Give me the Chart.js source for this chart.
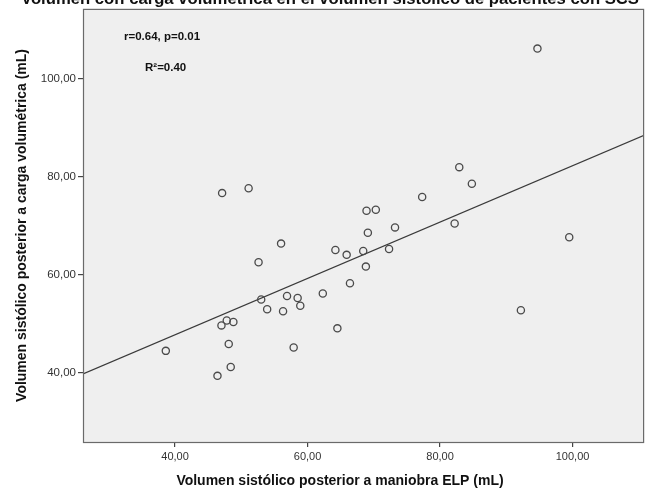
<!DOCTYPE html>
<html><head><meta charset="utf-8">
<script src="https://cdn.jsdelivr.net/npm/chart.js@4/dist/chart.umd.min.js"></script>
<style>html,body{margin:0;padding:0;background:#fff;}</style>
</head><body>
<canvas id="c" width="649" height="493"></canvas>
<script>
// Data
const xValues = [47.1, 51.1, 56.0, 52.6, 68.9, 70.3, 69.1, 64.2, 65.9, 68.4, 68.8, 72.3, 66.4, 62.3, 56.9, 58.5, 53.0, 58.9, 53.9, 56.3, 47.0, 47.8, 48.8, 64.5, 38.6, 48.1, 57.9, 48.4, 46.4, 94.7, 82.9, 84.8, 77.3, 73.2, 82.2, 99.5, 92.2];
const yValues = [76.7, 77.7, 66.4, 62.6, 73.1, 73.3, 68.6, 65.1, 64.1, 64.9, 61.7, 65.3, 58.3, 56.2, 55.7, 55.3, 55.0, 53.7, 53.0, 52.6, 49.7, 50.7, 50.4, 49.1, 44.5, 45.9, 45.2, 41.2, 39.4, 106.2, 82.0, 78.6, 75.9, 69.7, 70.5, 67.7, 52.8];
const xTicks = [40, 60, 80, 100];
const yTicks = [40, 60, 80, 100];
const fitIntercept = 24.8;
const fitSlope = 0.575;
const xRange = [26.1, 110.8];
const yRange = [25.9, 114.3];
const chartTitle = "Volumen con carga volumétrica en el volumen sistólico de pacientes con SCS";
const xTitle = "Volumen sistólico posterior a maniobra ELP (mL)";
const yTitle = "Volumen sistólico posterior a carga volumétrica (mL)";
const statText1 = "r=0.64, p=0.01";
const statText2 = "R²=0.40";

const points = xValues.map((x, i) => ({x: x, y: yValues[i]}));
const fitLine = xRange.map(x => ({x: x, y: fitIntercept + fitSlope * x}));
const fmt = v => v.toFixed(2).replace('.', ',');
const FONT = '"Liberation Sans", Arial, sans-serif';

const decor = {
  id: 'decor',
  beforeDraw(chart) {
    const {ctx, chartArea: a} = chart;
    ctx.save();
    ctx.fillStyle = '#efefef';
    ctx.fillRect(a.left, a.top, a.right - a.left, a.bottom - a.top);
    ctx.restore();
  },
  afterDraw(chart) {
    const {ctx, chartArea: a} = chart;
    ctx.save();
    ctx.strokeStyle = '#6a6a6a';
    ctx.lineWidth = 1.2;
    ctx.strokeRect(a.left + 0.5, a.top + 0.5, a.right - a.left - 1, a.bottom - a.top);
    ctx.fillStyle = '#111';
    // clipped title at top
    ctx.font = 'bold 17px ' + FONT;
    ctx.textAlign = 'center';
    ctx.textBaseline = 'alphabetic';
    ctx.fillText(chartTitle, 330, 3.5, 618);
    // stats
    ctx.font = 'bold 11.5px ' + FONT;
    ctx.textAlign = 'left';
    ctx.textBaseline = 'middle';
    ctx.fillText(statText1, 124, 37);
    ctx.fillText(statText2, 145, 68);
    // x title
    ctx.font = 'bold 14px ' + FONT;
    ctx.textAlign = 'center';
    ctx.fillText(xTitle, 340, 481);
    // y title
    ctx.translate(22, (a.top + a.bottom) / 2);
    ctx.rotate(-Math.PI / 2);
    ctx.fillText(yTitle, 0, 0);
    ctx.restore();
  }
};

new Chart(document.getElementById('c'), {
  type: 'scatter',
  data: {
    datasets: [
      {
        label: 'Observados',
        data: points,
        pointRadius: 3.6,
        pointHoverRadius: 3.6,
        pointBorderWidth: 1.3,
        pointBackgroundColor: 'rgba(0,0,0,0)',
        pointBorderColor: '#4a4a4a',
        showLine: false
      },
      {
        label: 'Ajuste lineal',
        data: fitLine,
        showLine: true,
        borderColor: '#3a3a3a',
        borderWidth: 1.3,
        pointRadius: 0,
        fill: false
      }
    ]
  },
  options: {
    responsive: false,
    animation: false,
    layout: {padding: {top: 8, right: 4, left: 0, bottom: 0}},
    plugins: {legend: {display: false}, tooltip: {enabled: false}},
    scales: {
      x: {
        type: 'linear',
        min: xRange[0], max: xRange[1],
        afterBuildTicks(scale) { scale.ticks = xTicks.map(v => ({value: v})); },
        afterFit(scale) { scale.height = 51; },
        ticks: {
          callback: v => fmt(v),
          color: '#333',
          font: {family: FONT, size: 11},
          padding: 3, maxRotation: 0
        },
        grid: {drawOnChartArea: false, drawTicks: true, tickLength: 5, color: '#444', lineWidth: 1.2},
        border: {display: false}
      },
      y: {
        type: 'linear',
        min: yRange[0], max: yRange[1],
        afterBuildTicks(scale) { scale.ticks = yTicks.map(v => ({value: v})); },
        afterFit(scale) { scale.width = 83; },
        ticks: {
          callback: v => fmt(v),
          color: '#333',
          font: {family: FONT, size: 11.5},
          padding: 2
        },
        grid: {drawOnChartArea: false, drawTicks: true, tickLength: 5, color: '#444', lineWidth: 1.2},
        border: {display: false}
      }
    }
  },
  plugins: [decor]
});
</script>
</body></html>
